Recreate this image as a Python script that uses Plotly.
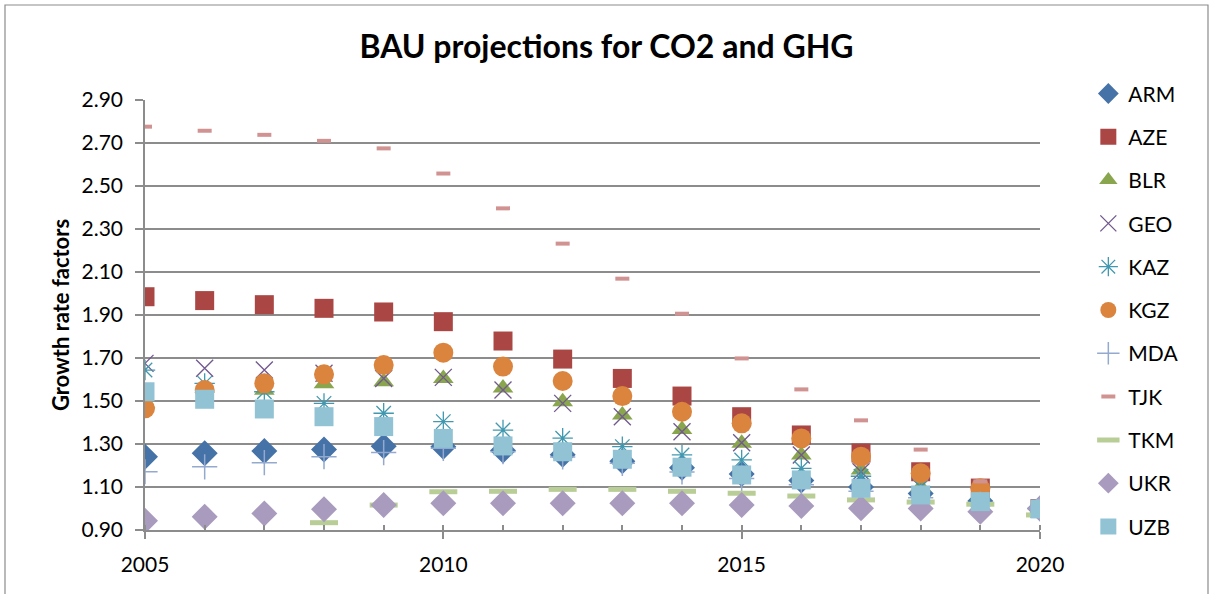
import plotly.graph_objects as go

years = list(range(2005, 2021))

ARM = [1.241, 1.257, 1.267, 1.275, 1.290, 1.287, 1.27, 1.25, 1.22, 1.19, 1.16, 1.13, 1.10, 1.07, 1.035, 1.00]
AZE = [1.985, 1.967, 1.948, 1.931, 1.914, 1.869, 1.779, 1.695, 1.605, 1.523, 1.427, 1.342, 1.258, 1.171, 1.095, 1.00]
BLR = [1.49, 1.56, 1.55, 1.58, 1.59, 1.605, 1.56, 1.497, 1.435, 1.368, 1.303, 1.249, 1.179, 1.10, 1.03, 1.00]
GEO = [1.675, 1.652, 1.644, 1.629, 1.605, 1.61, 1.551, 1.489, 1.427, 1.357, 1.306, 1.249, 1.171, 1.10, 1.03, 1.00]
KAZ = [1.644, 1.582, 1.543, 1.489, 1.443, 1.404, 1.365, 1.327, 1.288, 1.249, 1.226, 1.187, 1.15, 1.10, 1.04, 1.00]
KGZ = [1.466, 1.551, 1.582, 1.624, 1.667, 1.725, 1.66, 1.593, 1.523, 1.45, 1.396, 1.326, 1.241, 1.164, 1.094, 1.00]
MDA = [1.171, 1.194, 1.213, 1.241, 1.26, 1.28, 1.264, 1.24, 1.21, 1.17, 1.14, 1.11, 1.08, 1.05, 1.02, 1.00]
TJK = [2.776, 2.757, 2.738, 2.71, 2.675, 2.558, 2.396, 2.232, 2.069, 1.906, 1.698, 1.554, 1.41, 1.274, 1.126, 1.00]
TKM = [None, None, None, 0.934, 1.016, 1.078, 1.08, 1.089, 1.089, 1.08, 1.071, 1.058, 1.04, 1.03, 1.02, 0.97]
UKR = [0.943, 0.962, 0.977, 0.996, 1.016, 1.024, 1.024, 1.024, 1.024, 1.024, 1.016, 1.012, 1.001, 1.00, 0.985, 1.00]
UZB = [1.543, 1.508, 1.463, 1.427, 1.381, 1.326, 1.291, 1.264, 1.229, 1.192, 1.156, 1.133, 1.094, 1.063, 1.032, 0.998]

series = [
    ("ARM", ARM, "#4572A7", "diamond", 20, 0),
    ("AZE", AZE, "#AA4643", "square", 19, 0),
    ("BLR", BLR, "#89A54E", "triangle-up", 18, 0),
    ("GEO", GEO, "#71588F", "x-thin-open", 17, 1.3),
    ("KAZ", KAZ, "#4198AF", "asterisk-open", 17, 1.3),
    ("KGZ", KGZ, "#DB843D", "circle", 20, 0),
    ("MDA", MDA, "#93A9CF", "cross-thin-open", 18, 1.5),
    ("TJK", TJK, "#D19392", "line-ew-open", 10, 4),
    ("TKM", TKM, "#B9CD96", "line-ew-open", 20, 5),
    ("UKR", UKR, "#A99BBD", "diamond", 20, 0),
    ("UZB", UZB, "#91C3D5", "square", 19, 0),
]

fig = go.Figure()
for name, vals, color, sym, size, lw in series:
    marker = dict(symbol=sym, size=size, color=color)
    if lw:
        marker["line"] = dict(color=color, width=lw)
    else:
        marker["line"] = dict(width=0)
    fig.add_trace(go.Scatter(x=years, y=vals, name=name, mode="markers",
                             marker=marker, legendgroup=name))

font = "Lato, 'Open Sans', sans-serif"
fig.update_layout(
    width=1213, height=594,
    margin=dict(l=145, r=173, t=100, b=64),
    paper_bgcolor="white", plot_bgcolor="white",
    title=dict(text="<b>BAU projections for CO2 and GHG</b>", x=0.5, xanchor="center",
               y=1 - 47 / 594, yanchor="middle",
               font=dict(family=font, size=32, color="black")),
    font=dict(family=font, size=21, color="black"),
    legend=dict(x=1.054, y=1.062, xanchor="left", yanchor="top",
                font=dict(family=font, size=21, color="black"),
                tracegroupgap=13, maxheight=580, bgcolor="rgba(0,0,0,0)"),
    xaxis=dict(range=[2005, 2020], tickvals=[2005, 2010, 2015, 2020],
               showgrid=False, zeroline=False,
               showline=True, linecolor="#8c8c8c", linewidth=1.5,
               ticks="outside", ticklen=7, tickcolor="#8c8c8c", tickwidth=1.5,
               ticklabelstandoff=8,
               minor=dict(dtick=1, tick0=2005, ticks="inside", ticklen=5,
                          tickcolor="#8c8c8c", tickwidth=1.5, showgrid=False),
               tickfont=dict(family=font, size=21, color="black")),
    yaxis=dict(range=[0.9, 2.9], dtick=0.2, tick0=0.9, tickformat=".2f",
               showgrid=True, gridcolor="#8c8c8c", gridwidth=1.5,
               zeroline=False, showline=True, linecolor="#8c8c8c", linewidth=1.5,
               ticks="outside", ticklen=8, tickcolor="#8c8c8c", tickwidth=1.5,
               ticklabelstandoff=8,
               tickfont=dict(family=font, size=21, color="black"),
               title=dict(text="<b>Growth rate factors</b>", standoff=6,
                          font=dict(family=font, size=22, color="black"))),
)

# outer chart border
fig.add_shape(type="rect", xref="paper", yref="paper",
              x0=(5 - 145) / 895, x1=(1208 - 145) / 895,
              y0=(530 - 600) / 430, y1=(530 - 5) / 430,
              line=dict(color="#8c8c8c", width=1.2), fillcolor="rgba(0,0,0,0)",
              layer="below")

fig.write_html("out.html", config={"displayModeBar": False},
               post_script="document.body.style.margin='0';")
